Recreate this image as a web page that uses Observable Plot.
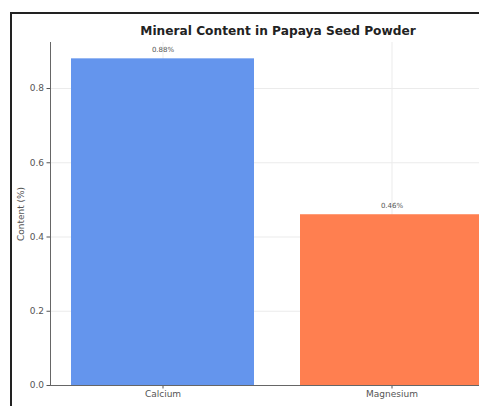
<!DOCTYPE html>
<html>
<head>
<meta charset="utf-8">
<script src="https://cdn.jsdelivr.net/npm/d3@7"></script>
<script src="https://cdn.jsdelivr.net/npm/@observablehq/plot@0.6"></script>
<style>
  html, body { margin: 0; padding: 0; background: #fff; overflow: hidden; }
  #wrap { position: relative; width: 479px; height: 406px; overflow: hidden; }
  #border { position: absolute; left: 10px; top: 12px; width: 520px; height: 430px;
            border-left: 2px solid #222; border-top: 2px solid #222; box-sizing: border-box; pointer-events: none; }
  #chart { position: absolute; left: 0; top: 0; }
</style>
</head>
<body>
<div id="wrap"><div id="chart"></div><div id="border"></div></div>
<script>
const minerals = ["Calcium", "Magnesium"];
const contents = [0.88, 0.46];
const barColors = ["#6495ED", "#FF7F50"];
const yTicks = [0.0, 0.2, 0.4, 0.6, 0.8];
const title = "Mineral Content in Papaya Seed Powder";
const yLabel = "Content (%)";

const data = minerals.map((m, i) => ({mineral: m, value: contents[i], color: barColors[i]}));

const chart = Plot.plot({
  width: 479,
  height: 406,
  marginLeft: 50,
  marginRight: 0,
  marginTop: 42,
  marginBottom: 21,
  style: {fontFamily: "DejaVu Sans", background: "#fff"},
  x: {domain: minerals, range: [50, 504], paddingInner: 0.2, paddingOuter: 0.087, label: null},
  y: {domain: [0, 0.924], label: null},
  marks: [
    Plot.gridY(yTicks, {stroke: "#ebebeb", strokeOpacity: 1}),
    Plot.gridX(minerals, {stroke: "#ebebeb", strokeOpacity: 1}),
    Plot.barY(data, {x: "mineral", y: "value", fill: "color"}),
    Plot.text(data, {x: "mineral", y: "value", text: d => d.value.toFixed(2) + "%", dy: -9, fontSize: 7, fill: "#555"}),
    Plot.axisY({ticks: yTicks, tickFormat: d3.format(".1f"), tickSize: 3.5, tickPadding: 3, fontSize: 9, color: "#555",
      label: yLabel, labelAnchor: "center", labelArrow: false, labelOffset: 33}),
    Plot.axisX({tickSize: 3.5, tickPadding: 2, fontSize: 9, color: "#555", label: null}),
    Plot.frame({anchor: "left", stroke: "#666"}),
    Plot.frame({anchor: "bottom", stroke: "#666"}),
    Plot.text([title], {frameAnchor: "top", dx: 13, dy: -16, fontSize: 12.2, fontWeight: "bold", fill: "#222"})
  ]
});
document.getElementById("chart").appendChild(chart);
</script>
</body>
</html>
